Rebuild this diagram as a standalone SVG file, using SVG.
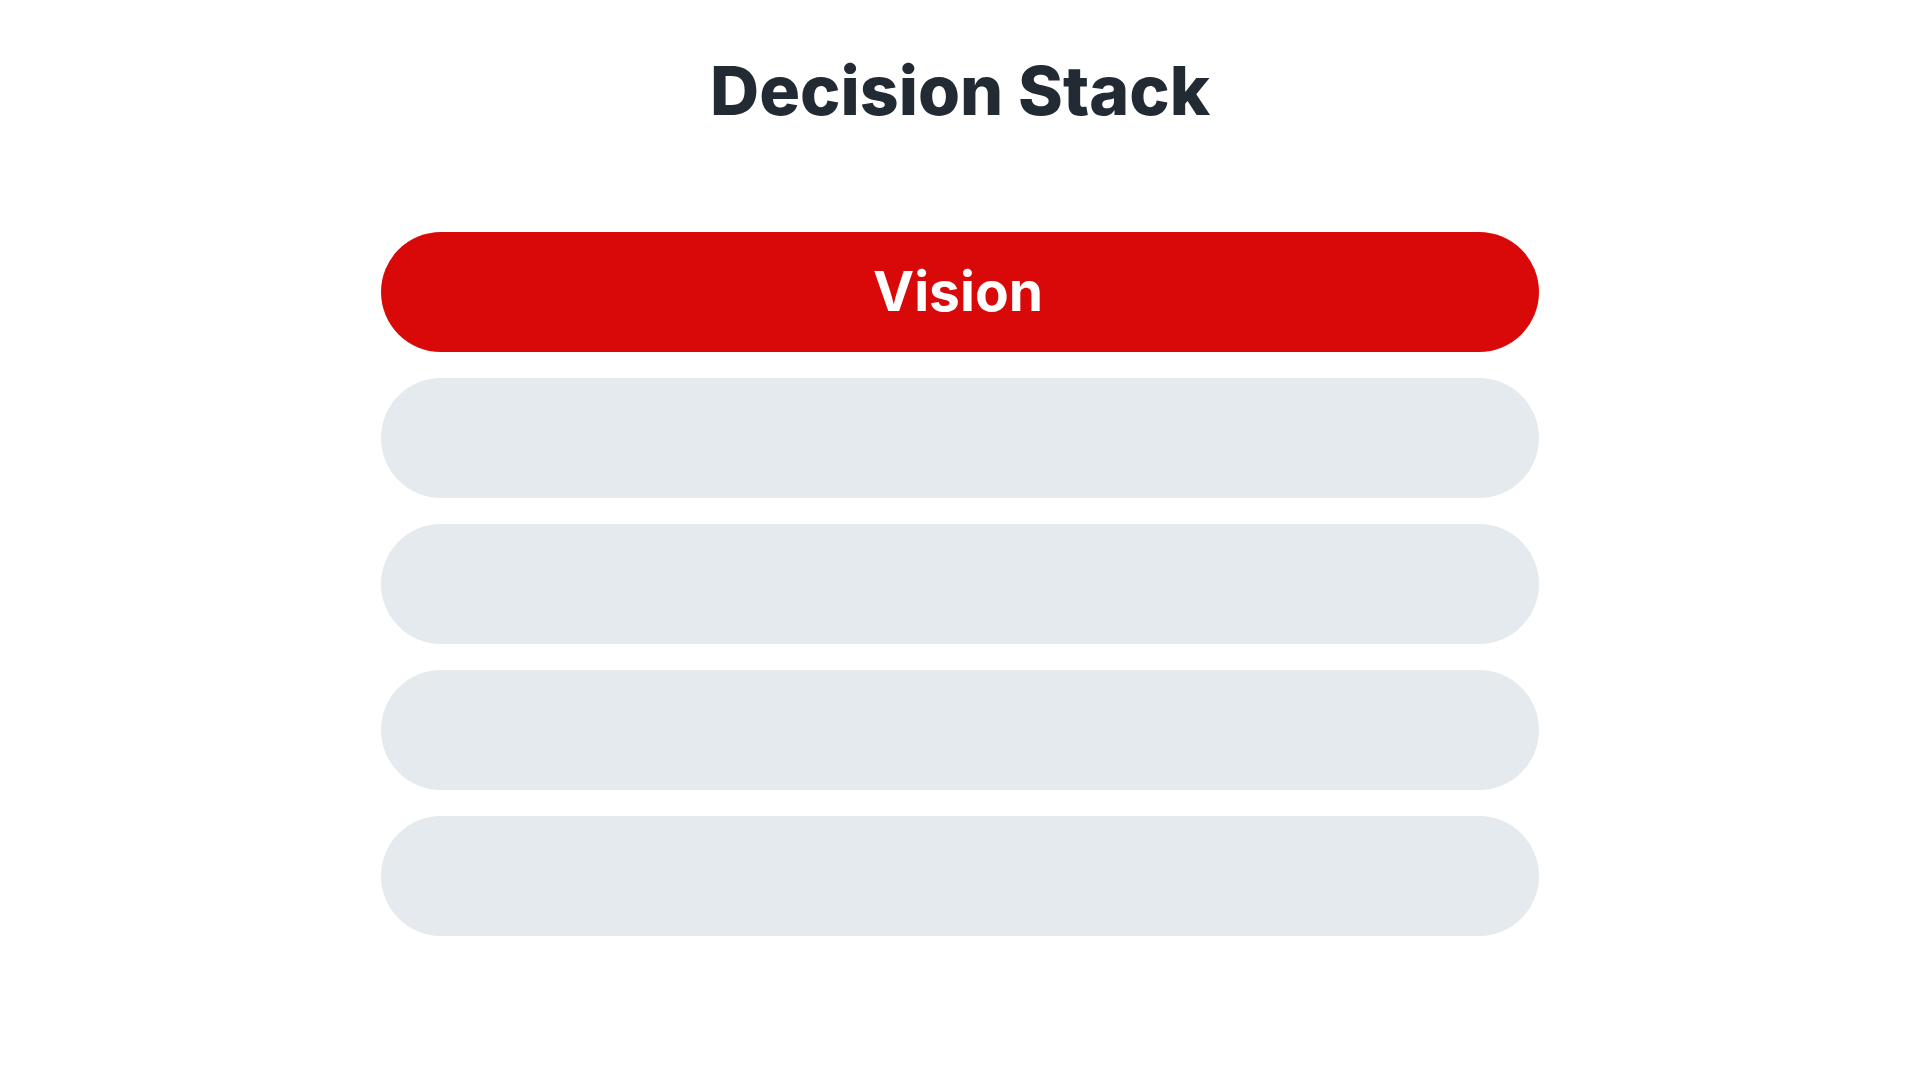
<svg xmlns="http://www.w3.org/2000/svg" width="1920" height="1080" viewBox="0 0 1920 1080">
  <style>
    .title { font-family: Inter, "Open Sans", "Liberation Sans", sans-serif; font-weight: 800; fill: #222a33; }
    .label { font-family: Inter, "Open Sans", "Liberation Sans", sans-serif; font-weight: 700; fill: #ffffff; }
    .pill { fill: #e5eaee; }
    .pill.active { fill: #da0909; }
  </style>
  <rect width="1920" height="1080" fill="#ffffff"/>
  <g id="title">
    <text class="title" x="960" y="115" font-size="68" text-anchor="middle" textLength="500" lengthAdjust="spacingAndGlyphs">Decision Stack</text>
  </g>
  <g id="node-vision">
    <rect class="pill active" x="381" y="232" width="1158" height="120" rx="60" ry="60"/>
    <text class="label" x="958" y="311" font-size="55" text-anchor="middle" textLength="170" lengthAdjust="spacingAndGlyphs">Vision</text>
  </g>
  <g id="node-2">
    <rect class="pill" x="381" y="378" width="1158" height="120" rx="60" ry="60"/>
  </g>
  <g id="node-3">
    <rect class="pill" x="381" y="524" width="1158" height="120" rx="60" ry="60"/>
  </g>
  <g id="node-4">
    <rect class="pill" x="381" y="670" width="1158" height="120" rx="60" ry="60"/>
  </g>
  <g id="node-5">
    <rect class="pill" x="381" y="816" width="1158" height="120" rx="60" ry="60"/>
  </g>
  <g id="connectors"></g>
</svg>
